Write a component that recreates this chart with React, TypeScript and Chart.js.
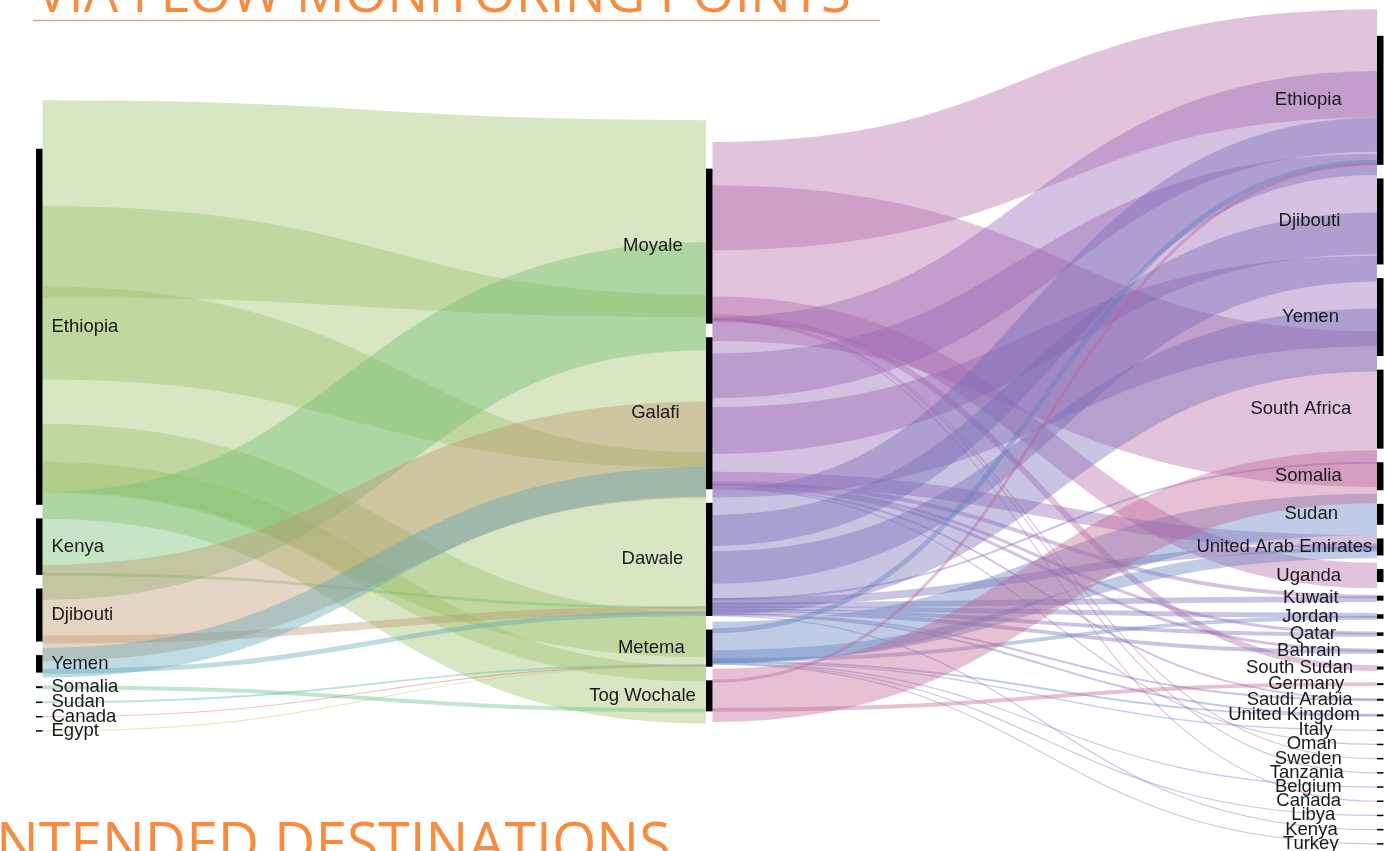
import React, { useEffect, useRef } from "react";
import { Chart, registerables } from "chart.js";

Chart.register(...registerables);

// ---------- DATA ----------
const originNodes = ["Ethiopia", "Kenya", "Djibouti", "Yemen", "Somalia", "Sudan", "Canada", "Egypt"];
const pointNodes = ["Moyale", "Galafi", "Dawale", "Metema", "Tog Wochale"];
const destNodes = [
  "Ethiopia", "Djibouti", "Yemen", "South Africa", "Somalia", "Sudan", "United Arab Emirates", "Uganda",
  "Kuwait", "Jordan", "Qatar", "Bahrain", "South Sudan", "Germany", "Saudi Arabia", "United Kingdom",
  "Italy", "Oman", "Sweden", "Tanzania", "Belgium", "Canada", "Libya", "Kenya", "Turkey",
];

// origin -> flow monitoring point
const inFlowFrom = ["Ethiopia", "Ethiopia", "Ethiopia", "Ethiopia", "Ethiopia", "Kenya", "Kenya", "Djibouti", "Djibouti", "Yemen", "Yemen", "Somalia", "Sudan", "Canada", "Egypt"];
const inFlowTo = ["Moyale", "Galafi", "Dawale", "Metema", "Tog Wochale", "Moyale", "Dawale", "Galafi", "Dawale", "Galafi", "Dawale", "Tog Wochale", "Metema", "Metema", "Metema"];
const inFlowValue = [100, 88, 104, 35, 29, 55, 1.5, 49, 4, 15, 2.5, 2, 1, 0.6, 0.6];

// flow monitoring point -> intended destination
const outFlowFrom = [
  "Moyale", "Moyale", "Moyale", "Moyale", "Moyale", "Moyale", "Moyale",
  "Galafi", "Galafi", "Galafi", "Galafi", "Galafi", "Galafi", "Galafi", "Galafi", "Galafi",
  "Dawale", "Dawale", "Dawale", "Dawale", "Dawale", "Dawale", "Dawale", "Dawale", "Dawale", "Dawale", "Dawale", "Dawale",
  "Metema", "Metema", "Metema", "Metema", "Metema", "Metema", "Metema", "Metema", "Metema",
  "Tog Wochale", "Tog Wochale", "Tog Wochale",
];
const outFlowTo = [
  "Ethiopia", "South Africa", "Uganda", "South Sudan", "Sweden", "Tanzania", "Canada",
  "Ethiopia", "Djibouti", "Yemen", "United Arab Emirates", "Kuwait", "Qatar", "Bahrain", "Saudi Arabia", "Oman",
  "Ethiopia", "Djibouti", "Yemen", "Somalia", "United Arab Emirates", "Kuwait", "Jordan", "Qatar", "Bahrain", "Saudi Arabia", "United Kingdom", "Kenya",
  "Ethiopia", "Sudan", "United Arab Emirates", "Jordan", "United Kingdom", "Italy", "Belgium", "Libya", "Turkey",
  "Ethiopia", "Somalia", "Germany",
];
const outFlowValue = [
  55, 79, 13, 3, 0.6, 0.6, 0.6,
  41, 51, 46, 7, 2, 1.5, 1.5, 1, 0.6,
  29, 35, 32, 1, 4, 3, 2.5, 2, 2, 1, 1, 0.6,
  2.5, 21, 6, 2, 1, 0.6, 0.6, 0.6, 0.6,
  1.5, 27, 2,
];

const topTitle = "VIA FLOW MONITORING POINTS";
const bottomTitle = "INTENDED DESTINATIONS";

// ---------- STYLE ----------
const originColors: Record<string, number[]> = {
  Ethiopia: [157, 192, 108],
  Kenya: [113, 190, 113],
  Djibouti: [190, 150, 110],
  Yemen: [95, 165, 185],
  Somalia: [100, 190, 130],
  Sudan: [90, 185, 175],
  Canada: [220, 100, 110],
  Egypt: [210, 195, 100],
};
const pointColors: Record<string, number[]> = {
  Moyale: [183, 105, 168],
  Galafi: [150, 100, 180],
  Dawale: [118, 108, 183],
  Metema: [98, 128, 193],
  "Tog Wochale": [193, 98, 145],
};

const W = 1386;
const H = 851;
const LINK_ALPHA = 0.4;
const BAND_SCALE = 1.97;
const NODE_GAP = 13.6;
const CENTER = 440;
const COL_X = [36, 706, 1377];
const NODE_W = 6.5;
const LABEL_FONT = '18.5px "Liberation Sans", Arial, sans-serif';
const TITLE_COLOR = "rgb(247,140,64)";

type NodeInfo = { name: string; col: number; idx: number; value: number; y0: number; y1: number };
type LinkInfo = { s: NodeInfo; t: NodeInfo; value: number; sy: number; ty: number; color: number[] };

function buildLayout() {
  const cols = [originNodes, pointNodes, destNodes];
  const nodes: NodeInfo[][] = cols.map((names, c) =>
    names.map((name, idx) => ({ name, col: c, idx, value: 0, y0: 0, y1: 0 }))
  );
  const find = (c: number, name: string) => nodes[c].find((n) => n.name === name)!;
  const links: LinkInfo[] = [];
  inFlowFrom.forEach((f, i) => {
    links.push({ s: find(0, f), t: find(1, inFlowTo[i]), value: inFlowValue[i], sy: 0, ty: 0, color: originColors[f] });
  });
  outFlowFrom.forEach((f, i) => {
    links.push({ s: find(1, f), t: find(2, outFlowTo[i]), value: outFlowValue[i], sy: 0, ty: 0, color: pointColors[f] });
  });
  nodes.flat().forEach((n) => {
    const out = links.filter((l) => l.s === n).reduce((a, l) => a + l.value, 0);
    const inn = links.filter((l) => l.t === n).reduce((a, l) => a + l.value, 0);
    n.value = Math.max(out, inn);
  });
  nodes.forEach((col) => {
    const total = col.reduce((a, n) => a + n.value, 0) + NODE_GAP * (col.length - 1);
    let y = CENTER - total / 2;
    col.forEach((n) => {
      n.y0 = y;
      n.y1 = y + n.value;
      y = n.y1 + NODE_GAP;
    });
  });
  nodes.flat().forEach((n) => {
    const srcLinks = links.filter((l) => l.s === n).sort((a, b) => a.t.idx - b.t.idx);
    let y = n.y0;
    srcLinks.forEach((l) => {
      l.sy = y + l.value / 2;
      y += l.value;
    });
    const tgtLinks = links.filter((l) => l.t === n).sort((a, b) => a.s.idx - b.s.idx);
    y = n.y0;
    tgtLinks.forEach((l) => {
      l.ty = y + l.value / 2;
      y += l.value;
    });
  });
  return { nodes, links };
}

const sankeyPlugin = {
  id: "sankeyDraw",
  afterDraw(chart: any) {
    const ctx: CanvasRenderingContext2D = chart.ctx;
    const xs = chart.scales.x;
    const ys = chart.scales.y;
    const px = (v: number) => xs.getPixelForValue(v);
    const py = (v: number) => ys.getPixelForValue(v);
    const pyLen = (v: number) => Math.abs(ys.getPixelForValue(v) - ys.getPixelForValue(0));
    const { nodes, links } = buildLayout();

    ctx.save();
    // titles
    ctx.fillStyle = TITLE_COLOR;
    ctx.textAlign = "left";
    ctx.textBaseline = "alphabetic";
    ctx.font = '54.5px "Open Sans", sans-serif';
    ctx.fillText(topTitle, 36, 12);
    ctx.strokeStyle = "rgb(205,172,130)";
    ctx.lineWidth = 1.5;
    ctx.beginPath();
    ctx.moveTo(33, 20.5);
    ctx.lineTo(880, 20.5);
    ctx.stroke();
    ctx.font = '57px "Open Sans", sans-serif';
    ctx.fillText(bottomTitle, -20, 863);

    // links
    links.forEach((l) => {
      const x0 = px(COL_X[l.s.col] + NODE_W);
      const x1 = px(COL_X[l.t.col]);
      const xm = (x0 + x1) / 2;
      const y0 = py(l.sy);
      const y1 = py(l.ty);
      const c = l.color;
      ctx.strokeStyle = `rgba(${c[0]},${c[1]},${c[2]},${LINK_ALPHA})`;
      ctx.lineWidth = Math.max(1, pyLen(l.value) * BAND_SCALE);
      ctx.lineCap = "butt";
      ctx.beginPath();
      ctx.moveTo(x0, y0);
      ctx.bezierCurveTo(xm, y0, xm, y1, x1, y1);
      ctx.stroke();
    });

    // nodes
    ctx.fillStyle = "#000";
    nodes.flat().forEach((n) => {
      const x = px(COL_X[n.col]);
      const w = px(COL_X[n.col] + NODE_W) - x;
      const top = py(n.y0);
      const h = Math.max(1.5, pyLen(n.value));
      ctx.fillRect(x, top + (pyLen(n.value) - h) / 2, w, h);
    });

    // labels
    ctx.font = LABEL_FONT;
    ctx.fillStyle = "#1a1a1a";
    ctx.textBaseline = "alphabetic";
    ctx.textAlign = "left";
    nodes.flat().forEach((n) => {
      const cy = py((n.y0 + n.y1) / 2) + 5;
      const tw = ctx.measureText(n.name).width;
      let x: number;
      if (n.col === 0) x = px(COL_X[0] + NODE_W) + 9;
      else if (n.col === 1) x = px(COL_X[1]) - 40 - 0.72 * tw;
      else x = px(COL_X[2]) - 54 - 0.72 * tw;
      ctx.fillText(n.name, x, cy);
    });
    ctx.restore();
  },
};

export default function App() {
  const canvasRef = useRef<HTMLCanvasElement | null>(null);
  useEffect(() => {
    const canvas = canvasRef.current;
    if (!canvas) return;
    const chart = new Chart(canvas, {
      type: "scatter",
      data: { datasets: [] },
      options: {
        animation: false,
        responsive: false,
        devicePixelRatio: 1,
        events: [],
        layout: { padding: 0 },
        plugins: { legend: { display: false }, tooltip: { enabled: false }, title: { display: false } },
        scales: {
          x: { type: "linear", min: 0, max: W, display: false },
          y: { type: "linear", min: 0, max: H, reverse: true, display: false },
        },
      },
      plugins: [sankeyPlugin],
    } as any);
    return () => chart.destroy();
  }, []);
  return (
    <div style={{ position: "fixed", left: 0, top: 0, width: W, height: H, overflow: "hidden", background: "#fff" }}>
      <canvas ref={canvasRef} width={W} height={H} style={{ display: "block" }} />
    </div>
  );
}
